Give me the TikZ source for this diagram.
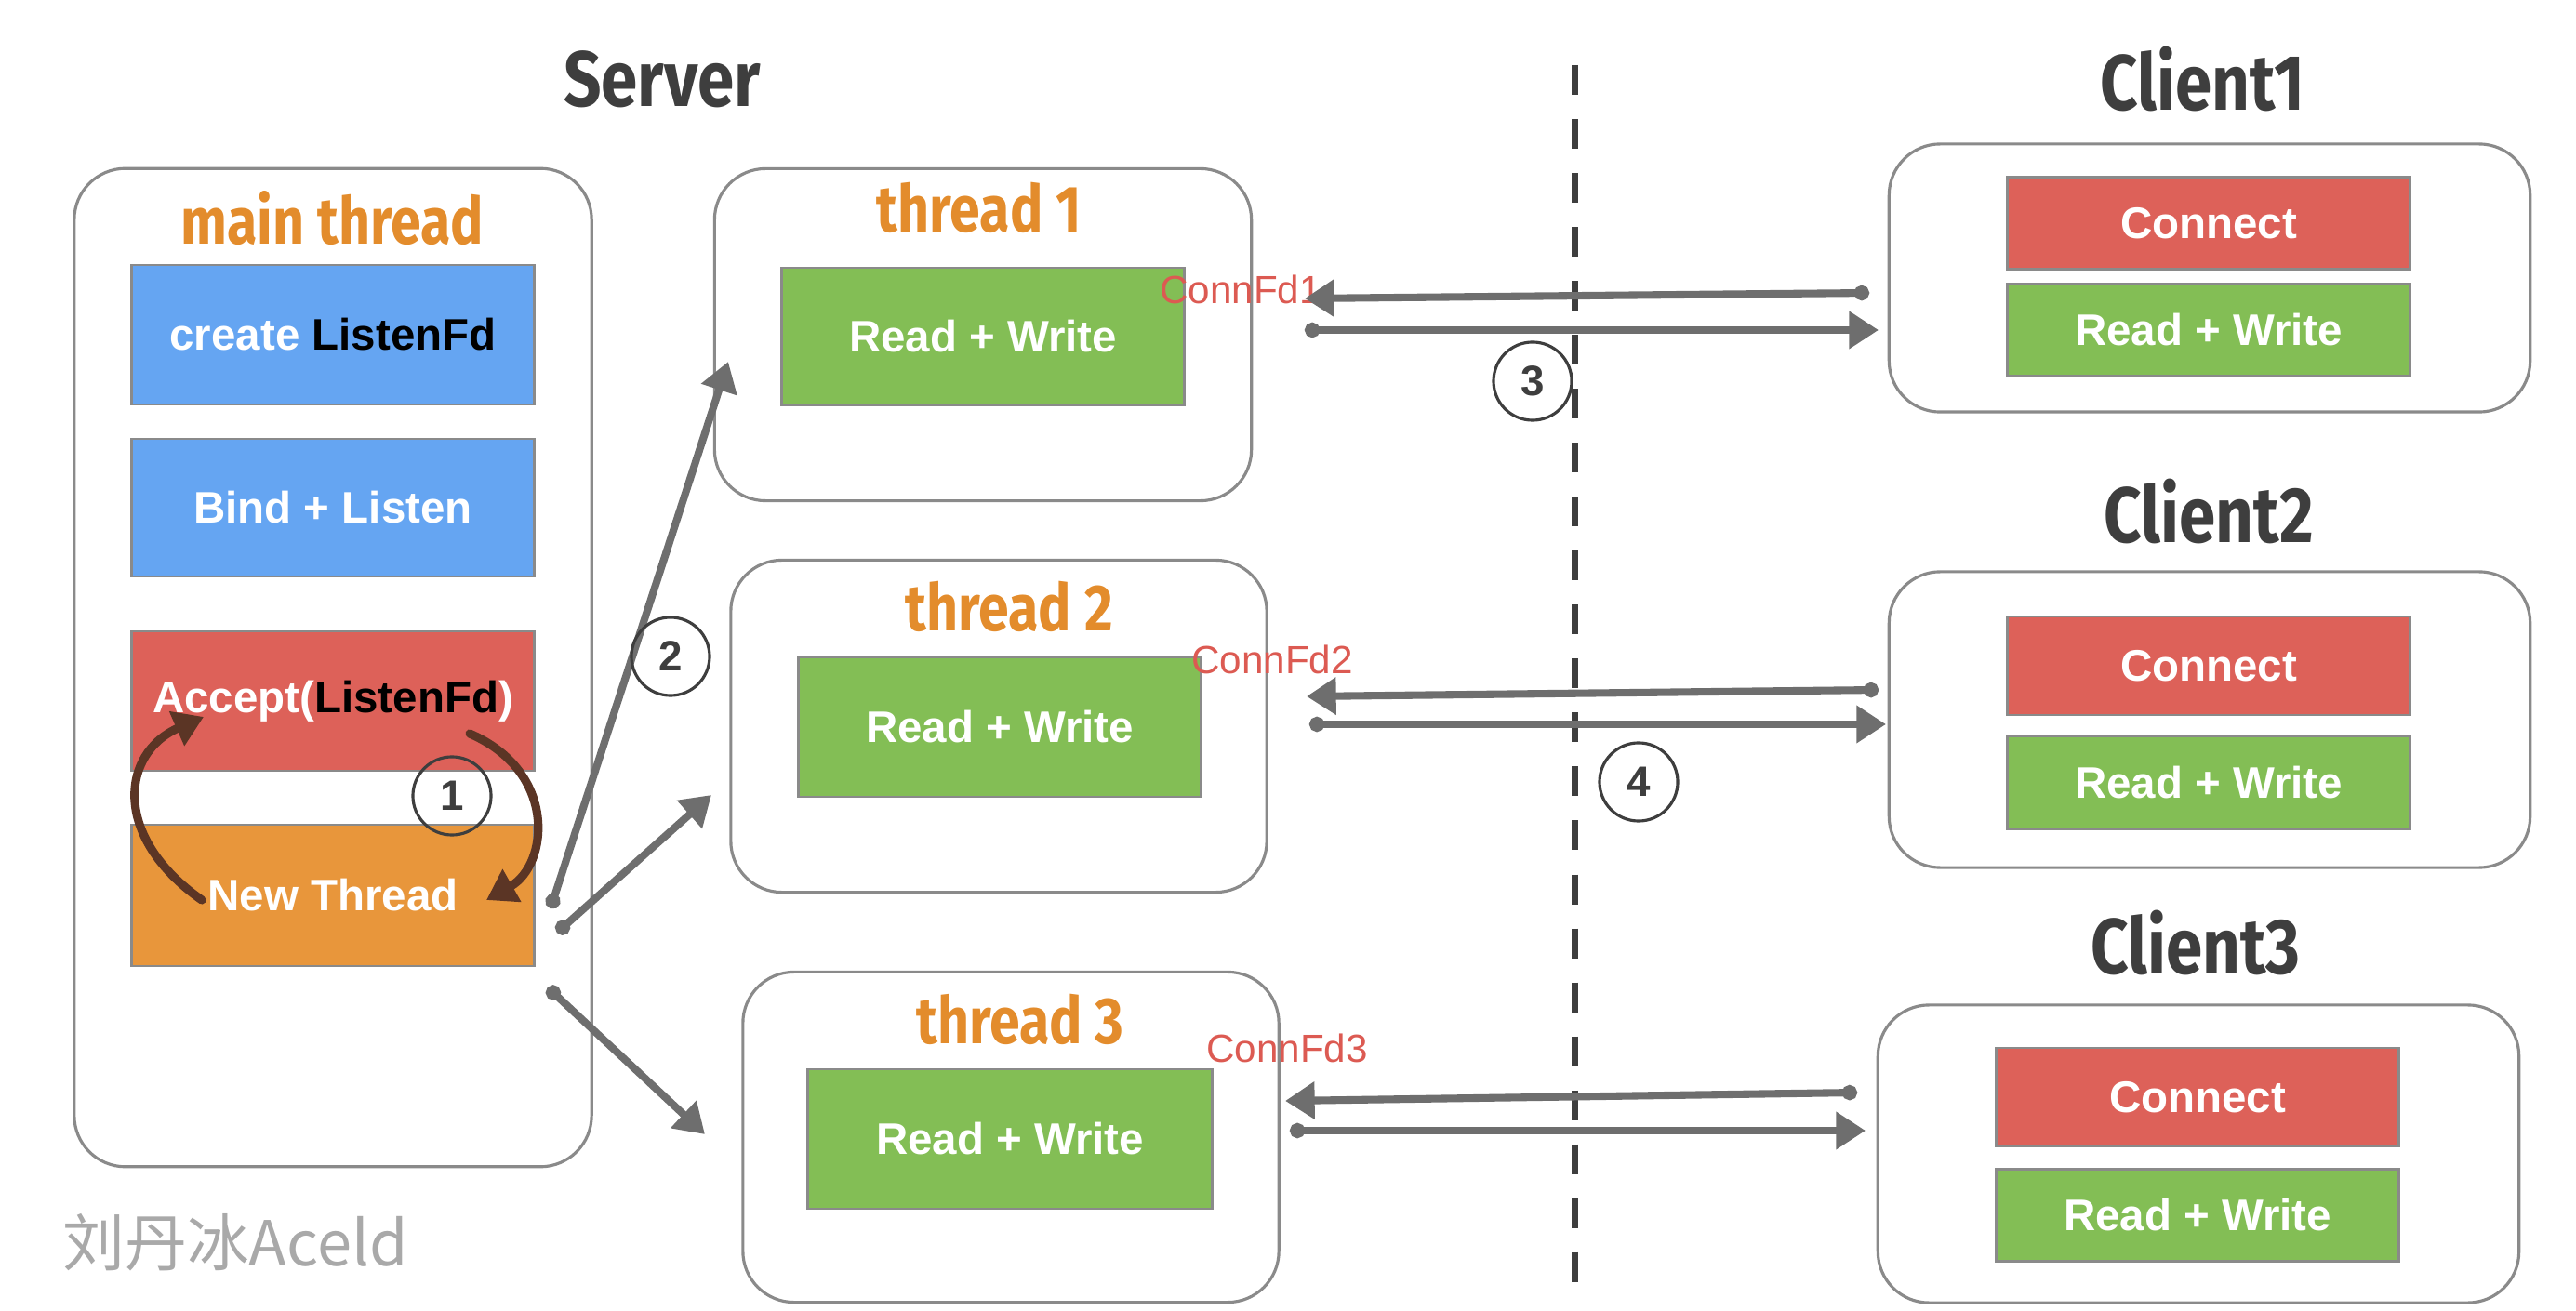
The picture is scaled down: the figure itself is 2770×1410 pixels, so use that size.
\documentclass[tikz,border=0pt]{standalone}
\usepackage{fontspec}
\setmainfont{Liberation Sans}
\newfontfamily\titlefont[FakeStretch=0.84]{Fira Sans}
\newfontfamily\cjkfont{Noto Sans CJK SC}
\usetikzlibrary{arrows.meta}

\definecolor{blockblue}{HTML}{65A5F2}
\definecolor{blockred}{HTML}{DD6159}
\definecolor{blockgreen}{HTML}{83BE55}
\definecolor{blockorange}{HTML}{E8963B}
\definecolor{threadorange}{HTML}{E38C2C}
\definecolor{titlegray}{HTML}{3E3E3E}
\definecolor{framegray}{HTML}{8A8A8A}
\definecolor{arrowgray}{HTML}{6E6E6E}
\definecolor{loopbrown}{HTML}{5B3525}
\definecolor{fdred}{HTML}{DC5A52}
\definecolor{markgray}{HTML}{A9A9A9}

\begin{document}
\begin{tikzpicture}[x=0.01cm, y=-0.01cm,
  threadframe/.style={draw=framegray, line width=0.9pt, rounded corners=0.55cm, inner sep=0pt},
  block/.style={draw=framegray, line width=0.8pt, minimum width=4.33cm, inner sep=0pt,
    text=white, font=\fontsize{13.5}{16}\selectfont\bfseries},
  sidetitle/.style={text=titlegray, font=\titlefont\fontsize{24}{28}\selectfont\bfseries},
  threadtitle/.style={text=threadorange, font=\titlefont\fontsize{20}{24}\selectfont\bfseries},
  fdlabel/.style={text=fdred, font=\fontsize{12}{14}\selectfont, inner sep=0pt},
  stepmark/.style={circle, draw=titlegray, line width=0.9pt, minimum size=0.84cm, inner sep=0pt,
    text=titlegray, font=\fontsize{13}{15}\selectfont\bfseries},
  flow/.style={draw=arrowgray, line width=2.3pt,
    arrows={Circle[length=4.6pt]-Triangle[length=9pt,width=11pt]}},
  acceptloop/.style={draw=loopbrown, line width=2.6pt, line cap=round,
    -{Triangle[length=9pt,width=11pt]}}]
  \useasboundingbox (0,0) rectangle (2770,1410);

  % Titles and the dashed border
  \node[sidetitle] (server) at (712,85) {Server};
  \node[sidetitle] (client1) at (2368,85) {Client1};
  \node[sidetitle] (client2) at (2375,550) {Client2};
  \node[sidetitle] (client3) at (2361,1014) {Client3};
  \draw[titlegray, line width=2pt, dash pattern=on 0.32cm off 0.26cm] (1693,70) -- (1693,1387);

  % Draw the frames
  \node[threadframe, minimum width=5.56cm, minimum height=10.73cm] (main) at (358,718) {};
  \node[threadframe, minimum width=5.77cm, minimum height=3.57cm] (t1) at (1057,360) {};
  \node[threadframe, minimum width=5.76cm, minimum height=3.57cm] (t2) at (1074,781) {};
  \node[threadframe, minimum width=5.76cm, minimum height=3.55cm] (t3) at (1087,1223) {};
  \node[threadframe, minimum width=6.89cm, minimum height=2.88cm] (c1) at (2376,299) {};
  \node[threadframe, minimum width=6.89cm, minimum height=3.18cm] (c2) at (2376,774) {};
  \node[threadframe, minimum width=6.89cm, minimum height=3.20cm] (c3) at (2364,1241) {};

  \node[threadtitle] (mainlbl) at (357,235) {main thread};
  \node[threadtitle] (t1lbl) at (1053,223) {thread 1};
  \node[threadtitle] (t2lbl) at (1085,652) {thread 2};
  \node[threadtitle] (t3lbl) at (1097,1096) {thread 3};

  % Draw the blocks
  \node[block, fill=blockblue, minimum height=1.50cm] (create) at (358,360) {create \textcolor{black}{ListenFd}};
  \node[block, fill=blockblue, minimum height=1.48cm] (bind) at (358,546) {Bind + Listen};
  \node[block, fill=blockred, minimum height=1.50cm] (accept) at (358,754) {Accept(\textcolor{black}{ListenFd})};
  \node[block, fill=blockorange, minimum height=1.52cm] (newthr) at (358,963) {New Thread};

  \node[block, fill=blockgreen, minimum height=1.48cm] (t1rw) at (1057,362) {Read + Write};
  \node[block, fill=blockgreen, minimum height=1.50cm] (t2rw) at (1075,782) {Read + Write};
  \node[block, fill=blockgreen, minimum width=4.35cm, minimum height=1.50cm] (t3rw) at (1086,1225) {Read + Write};

  \node[block, fill=blockred, minimum height=0.99cm] (c1con) at (2375,240) {Connect};
  \node[block, fill=blockgreen, minimum height=0.99cm] (c1rw) at (2375,355) {Read + Write};
  \node[block, fill=blockred, minimum height=1.06cm] (c2con) at (2375,716) {Connect};
  \node[block, fill=blockgreen, minimum height=1.00cm] (c2rw) at (2375,842) {Read + Write};
  \node[block, fill=blockred, minimum height=1.06cm] (c3con) at (2363,1180) {Connect};
  \node[block, fill=blockgreen, minimum height=0.99cm] (c3rw) at (2363,1307) {Read + Write};

  \node[fdlabel] (fd1) at (1334,311) {ConnFd1};
  \node[fdlabel] (fd2) at (1368,709) {ConnFd2};
  \node[fdlabel] (fd3) at (1384,1127) {ConnFd3};

  % Accept loop
  \coordinate (lp1) at (217,968);
  \coordinate (lp2) at (219,771);
  \coordinate (lp3) at (505,789);
  \coordinate (lp4) at (523,968);
  \draw[acceptloop] (lp1) .. controls (120,900) and (130,810) .. (lp2);
  \draw[acceptloop] (lp3) .. controls (600,830) and (590,930) .. (lp4);
  \node[stepmark] (s1) at (486,856) {1};

  % New threads
  \coordinate (nt1) at (592,977);
  \coordinate (nt2) at (599,1003);
  \coordinate (nt3) at (589,1062);
  \coordinate (in1) at (783,389);
  \coordinate (in2) at (765,855);
  \coordinate (in3) at (758,1220);
  \draw[flow] (nt1) -- (in1);
  \draw[flow] (nt2) -- (in2);
  \draw[flow] (nt3) -- (in3);
  \node[stepmark] (s2) at (721,706) {2};

  % Read and write between threads and clients
  \coordinate (a1) at (2010,315);
  \coordinate (b1) at (1403,321);
  \coordinate (a2) at (1403,355);
  \coordinate (b2) at (2020,355);
  \coordinate (a3) at (2020,742);
  \coordinate (b3) at (1405,749);
  \coordinate (a4) at (1408,779);
  \coordinate (b4) at (2028,779);
  \coordinate (a5) at (1997,1175);
  \coordinate (b5) at (1382,1184);
  \coordinate (a6) at (1387,1216);
  \coordinate (b6) at (2006,1216);
  \draw[flow] (a1) -- (b1);
  \draw[flow] (a2) -- (b2);
  \draw[flow] (a3) -- (b3);
  \draw[flow] (a4) -- (b4);
  \draw[flow] (a5) -- (b5);
  \draw[flow] (a6) -- (b6);
  \node[stepmark] (s3) at (1648,410) {3};
  \node[stepmark] (s4) at (1762,841) {4};

  \node[text=markgray, font=\cjkfont\fontsize{19}{22}\selectfont] (mark) at (253,1336) {刘丹冰Aceld};
\end{tikzpicture}
\end{document}
